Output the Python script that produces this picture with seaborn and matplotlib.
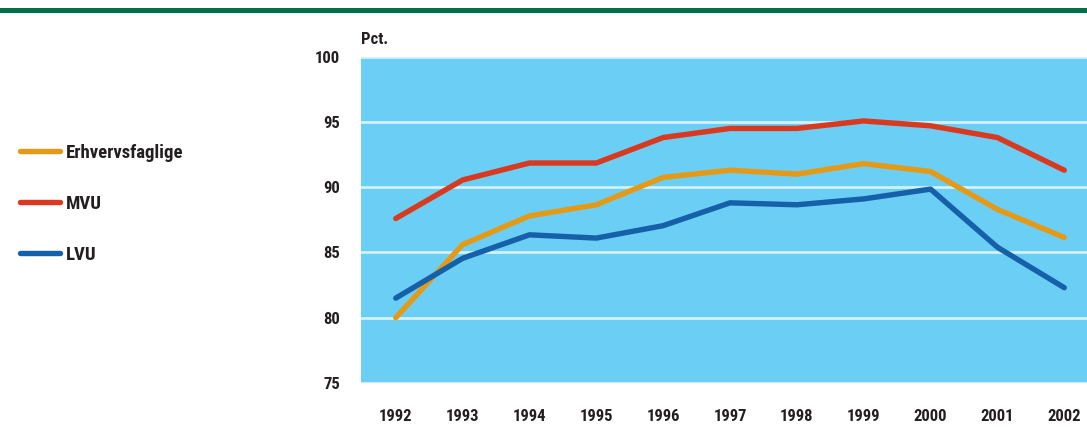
import matplotlib
matplotlib.use("Agg")
import matplotlib.pyplot as plt
from matplotlib.lines import Line2D
from matplotlib import font_manager
import seaborn as sns
import pandas as pd

years = [1992, 1993, 1994, 1995, 1996, 1997, 1998, 1999, 2000, 2001, 2002]
erhvervsfaglige = [80.0, 85.6, 87.8, 88.65, 90.75, 91.3, 91.0, 91.8, 91.2, 88.3, 86.15]
mvu = [87.6, 90.55, 91.85, 91.85, 93.8, 94.5, 94.5, 95.07, 94.7, 93.8, 91.3]
lvu = [81.5, 84.55, 86.35, 86.1, 87.05, 88.8, 88.65, 89.1, 89.85, 85.4, 82.3]
series_names = ["Erhvervsfaglige", "MVU", "LVU"]
yticks = [75, 80, 85, 90, 95, 100]

colors = {"Erhvervsfaglige": "#e59a17", "MVU": "#d9391e", "LVU": "#1560a8"}

df = pd.concat([
    pd.DataFrame({"year": years, "value": vals, "serie": name})
    for name, vals in zip(series_names, [erhvervsfaglige, mvu, lvu])
])

sns.set_theme(style="white")
names = {f.name for f in font_manager.fontManager.ttflist}
fam = "DejaVu Sans"
for cand in ["Liberation Sans Narrow", "DejaVu Sans Condensed", "Roboto Condensed", "Open Sans Condensed"]:
    if cand in names:
        fam = cand
        break
plt.rcParams["font.family"] = [fam, "DejaVu Sans"]
fs = 12
lfs = 13.5
txt = "#231f20"

fig = plt.figure(figsize=(10.87, 4.38), dpi=100)
ax = fig.add_axes([361 / 1087, 1 - 383 / 438, (1087 - 361) / 1087, (383 - 56.6) / 438])
ax.set_facecolor("#6bcff5")

for v in yticks:
    ax.axhline(v, color="#d2f1fc", lw=2, zorder=1)

sns.lineplot(data=df, x="year", y="value", hue="serie", hue_order=series_names,
             palette=colors, lw=3.9, solid_capstyle="round", ax=ax, legend=False, zorder=3)

ax.set_xlim(1991.48, 2002.34)
ax.set_ylim(75, 100)
ax.set_xticks(years)
ax.set_xticklabels([str(y) for y in years], fontsize=fs, fontweight="bold", color=txt)
ax.set_yticks(yticks)
ax.set_yticklabels([str(v) for v in yticks], fontsize=fs, fontweight="bold", color=txt)
ax.tick_params(axis="x", length=0, pad=19)
ax.tick_params(axis="y", length=0, pad=15)
ax.set_xlabel("")
ax.set_ylabel("")
for s in ax.spines.values():
    s.set_visible(False)

fig.text(361 / 1087, 1 - 40 / 438, "Pct.", fontsize=fs, fontweight="bold", color=txt,
         ha="left", va="center")

# green top bar
fig.add_artist(plt.Rectangle((0, 1 - 12.5 / 438), 1, 4.5 / 438, transform=fig.transFigure,
                             color="#007046", lw=0))

handles = [Line2D([0], [0], color=colors[n], lw=3.9, solid_capstyle="round") for n in series_names]
leg = fig.legend(handles, series_names, loc="upper left", bbox_to_anchor=(3 / 1087, 1 - 127 / 438),
                 frameon=False, labelspacing=1.75, handlelength=2.15, handletextpad=0.3,
                 prop={"size": lfs, "weight": "bold", "family": [fam, "DejaVu Sans"]})
for t in leg.get_texts():
    t.set_color(txt)

fig.savefig("out.png", dpi=100)
